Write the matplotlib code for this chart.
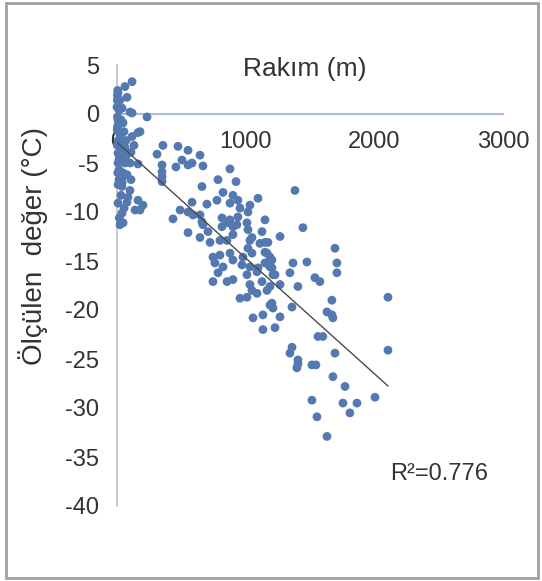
import numpy as np
import matplotlib
matplotlib.use("Agg")
from matplotlib import pyplot as plt
from matplotlib.patches import Rectangle

plt.rcParams["font.family"] = ["Liberation Sans", "DejaVu Sans"]
plt.rcParams["axes.unicode_minus"] = False

# Column of stations near sea level
rakim_low = [117, 62, 8, 5, 78, 2, 23, 0, 101, 117, 233, 3, 47, 4, 163, 117, 179, 10, 62, 8,
             31, 109, 16, 62, 8, 101, 163, 47, 78, 39, 16, 39, 101, 85, 78, 8, 163, 202, 140, 179,
             39, 47, 23, 3, 16, 31, 2, 23, 3, 39, 16, 54, 70, 39, 8, 8, 31, 109, 70, 132,
             12, 25, 6, 40, 18, 55]
deger_low = [3.3, 2.8, 2.2, 2.4, 1.7, 1.4, 1.4, 0.7, 0.2, 0.1, -0.3, -0.3, -0.9, -1.3, -1.9, -2.3, -1.8, -2.7, -3.4, -4.0,
             -3.9, -3.9, -4.6, -5.0, -5.0, -5.0, -5.1, -6.0, -6.2, -6.5, -6.7, -7.4, -7.8, -8.5, -9.0, -9.1, -8.8, -9.3, -9.8, -9.8,
             -10.1, -11.1, -11.3, 1.9, 0.4, -0.6, -1.6, -2.1, -3.2, -3.0, -5.7, -1.8, -2.7, 0.6, -0.6, -7.2, -8.3, -6.7, -4.3, -3.2,
             -1.0, -4.4, -6.0, -7.0, -10.6, -9.6]

# Middle altitudes
rakim_mid = [357, 474, 552, 645, 311, 505, 583, 668, 458, 350, 350, 350, 350, 878, 785, 925, 660, 824, 901, 1096,
             583, 777, 699, 878, 940, 956, 1033, 1018, 490, 435, 552, 645, 816, 878, 940, 1150, 668, 816, 1010, 901,
             552, 552, 1383, 591, 660, 645, 707, 723, 855, 932, 1018, 1127, 1267, 1445, 855, 1033, 1111, 1173, 1018, 746,
             800, 878, 901, 761, 824, 979, 1049, 1150, 971, 1033, 1150, 1204, 1088, 1010, 1212, 1344, 1368, 1476, 746, 855,
             901, 1033, 1127, 1189, 1267, 1049, 1166, 1406, 956, 1010, 1088, 1204, 1360, 800, 901, 1049, 1189, 785, 1096]
deger_mid = [-3.2, -3.3, -3.7, -4.2, -4.1, -4.7, -5.0, -5.3, -5.4, -5.2, -5.9, -6.9, -6.4, -5.6, -6.7, -6.9, -7.4, -8.0, -8.3, -8.6,
             -9.0, -8.8, -9.2, -9.1, -8.8, -9.6, -9.3, -10.0, -9.8, -10.7, -10.0, -10.3, -10.6, -10.8, -10.5, -10.8, -11.3, -11.5, -11.1, -11.5,
             -5.2, -12.1, -7.8, -10.3, -11.0, -12.6, -12.0, -13.1, -11.1, -11.3, -11.8, -12.0, -12.5, -11.6, -12.9, -12.9, -13.2, -13.1, -13.7, -14.6,
             -14.4, -14.2, -14.9, -15.2, -15.6, -14.6, -14.2, -14.1, -15.4, -15.6, -15.2, -15.7, -16.1, -16.4, -16.4, -16.2, -15.2, -15.1, -17.1, -17.1,
             -16.9, -17.4, -17.1, -17.6, -17.4, -18.0, -18.0, -17.6, -18.8, -18.7, -18.3, -19.3, -19.7, -12.9, -12.3, -12.6, -14.6, -16.2, -15.7]

# High altitudes
rakim_high = [1150, 1166, 1204, 1189, 1228, 1694, 1709, 1709, 1538, 1577, 1670, 2106, 1189, 1212, 1632, 1670, 1678, 1134, 1057, 1267,
              1228, 1134, 1562, 1600, 1360, 1344, 1406, 1398, 1406, 1515, 1546, 1694, 2106, 1678, 1772, 2005, 1515, 1756, 1865, 1810,
              1554, 1632]
deger_high = [-13.1, -14.2, -14.9, -15.6, -16.4, -13.7, -15.2, -16.2, -16.7, -17.1, -19.0, -18.7, -19.5, -19.8, -20.2, -20.5, -20.8, -20.5, -20.8, -20.7,
              -21.8, -22.0, -22.7, -22.7, -23.8, -24.4, -25.1, -25.9, -25.5, -25.6, -25.6, -24.4, -24.1, -26.8, -27.8, -28.9, -29.2, -29.5, -29.5, -30.5,
              -30.9, -32.9]

# Linear trend line as drawn in the picture
trend_intercept = -2.9
trend_slope = -0.0118
r2_text = "R²=0.776"

x = np.array(rakim_low + rakim_mid + rakim_high, dtype=float)
y = np.array(deger_low + deger_mid + deger_high, dtype=float)

fig = plt.figure(figsize=(5.42, 5.81), dpi=100)
fig.patches.append(Rectangle((0.011, 0.006), 0.982, 0.988, transform=fig.transFigure,
                             fill=False, edgecolor="#a0a0a0", linewidth=2))

ax = fig.add_axes([117 / 542, 1 - 506 / 581, 386 / 542, 441 / 581])
ax.scatter(x, y, s=40, color="#5479b0", edgecolors="none", clip_on=False, zorder=3)

xs = np.array([x.min(), x.max()])
ax.plot(xs, trend_intercept + trend_slope * xs, color="#4a4a4a", linewidth=1.0, zorder=4)

ax.set_xlim(0, 3000)
ax.set_ylim(-40, 5)
ax.set_xticks(np.arange(0, 3001, 1000))
ax.set_yticks(np.arange(-40, 6, 5))

ax.spines["top"].set_visible(False)
ax.spines["right"].set_visible(False)
ax.spines["bottom"].set_position(("data", 0))
ax.spines["bottom"].set_color("#a9bbdb")
ax.spines["bottom"].set_linewidth(1.5)
ax.spines["left"].set_color("#bfbfbf")
ax.spines["left"].set_linewidth(1.2)
ax.tick_params(length=0, labelsize=17, colors="#333333")
ax.tick_params(axis="x", pad=12)
ax.tick_params(axis="y", pad=13)

ax.text(1460, 4.6, "Rakım (m)", fontsize=19, color="#333333", ha="center", va="center")
fig.text(33 / 542, 1 - 246 / 581, "Ölçülen  değer (°C)", fontsize=20, color="#333333",
         rotation=90, ha="center", va="center")
ax.text(2500, -36.7, r2_text, fontsize=17, color="#333333", ha="center", va="center")

fig.savefig("out.png", dpi=100)
